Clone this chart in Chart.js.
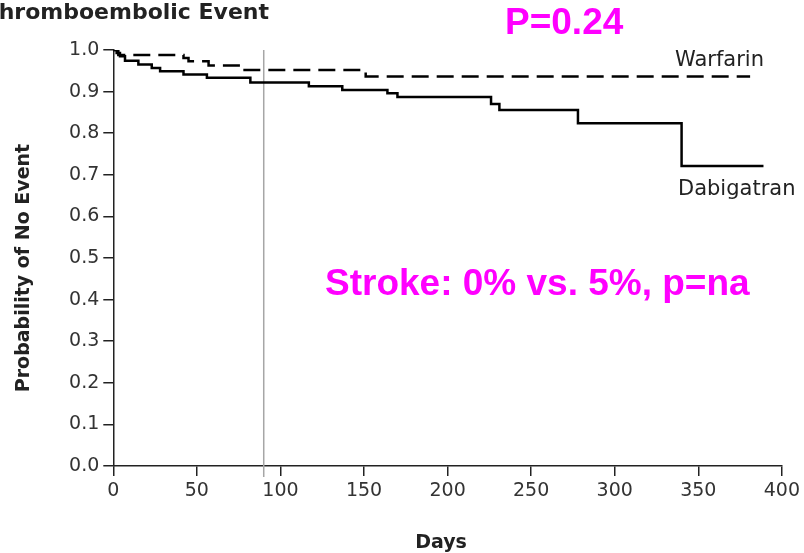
<!DOCTYPE html>
<html>
<head>
<meta charset="utf-8">
<script src="https://cdn.jsdelivr.net/npm/chart.js@4"></script>
<style>
  html, body { margin: 0; padding: 0; background: #fff; }
  canvas { display: block; }
</style>
</head>
<body>
<canvas id="chart" width="804" height="553"></canvas>
<script>
// Kaplan-Meier data (days, probability of no event)
const warfarinDays = [0, 3, 42, 45, 57, 75, 151, 381];
const warfarinProb = [1.0, 0.988, 0.981, 0.973, 0.963, 0.952, 0.936, 0.936];

const dabigatranDays = [0, 2, 4, 7, 15, 23, 28, 42, 56, 82, 117, 137, 164, 170, 226, 231, 278, 340, 389];
const dabigatranProb = [1.0, 0.993, 0.985, 0.974, 0.965, 0.957, 0.949, 0.941, 0.933, 0.922, 0.913, 0.904, 0.896, 0.887, 0.870, 0.856, 0.824, 0.721, 0.721];

const xTicks = [0, 50, 100, 150, 200, 250, 300, 350, 400];
const yTicks = [0.0, 0.1, 0.2, 0.3, 0.4, 0.5, 0.6, 0.7, 0.8, 0.9, 1.0];

const markerDay = 90; // vertical reference line

const toPoints = (xs, ys) => xs.map((x, i) => ({ x: x, y: ys[i] }));

// extra drawing: reference line, labels, annotations
const extras = {
  id: "extras",
  beforeDatasetsDraw(chart) {
    const { ctx, scales } = chart;
    const x = scales.x.getPixelForValue(markerDay);
    ctx.save();
    ctx.strokeStyle = "#a6a6a6";
    ctx.lineWidth = 1.5;
    ctx.beginPath();
    ctx.moveTo(x, scales.y.getPixelForValue(1.0));
    ctx.lineTo(x, scales.y.getPixelForValue(0) + 11);
    ctx.stroke();
    ctx.restore();
  },
  afterDraw(chart) {
    const { ctx } = chart;
    ctx.save();
    ctx.fillStyle = "#222";
    ctx.textBaseline = "alphabetic";

    // title is cut off at the left edge in the original
    ctx.font = "bold 22px 'DejaVu Sans'";
    ctx.textAlign = "right";
    ctx.fillText("Thromboembolic Event", 269, 19);

    ctx.textAlign = "left";
    ctx.font = "21px 'DejaVu Sans'";
    ctx.fillText("Warfarin", 675, 66);
    ctx.fillText("Dabigatran", 678, 195);

    ctx.font = "bold 19px 'DejaVu Sans'";
    ctx.textAlign = "center";
    ctx.fillText("Days", 441, 548);
    ctx.translate(29, 268);
    ctx.rotate(-Math.PI / 2);
    ctx.fillText("Probability of No Event", 0, 0);
    ctx.restore();

    ctx.save();
    ctx.fillStyle = "#ff00ff";
    ctx.font = "bold 37px 'Liberation Sans'";
    ctx.textAlign = "left";
    ctx.fillText("P=0.24", 505, 34);
    ctx.fillText("Stroke: 0% vs. 5%, p=na", 325, 295);
    ctx.restore();
  }
};

const ctx = document.getElementById("chart").getContext("2d");
new Chart(ctx, {
  type: "line",
  data: {
    datasets: [
      {
        label: "Warfarin",
        data: toPoints(warfarinDays, warfarinProb),
        borderColor: "#000",
        borderWidth: 2.5,
        borderDash: [17, 8],
        stepped: "before",
        pointRadius: 0,
        fill: false
      },
      {
        label: "Dabigatran",
        data: toPoints(dabigatranDays, dabigatranProb),
        borderColor: "#000",
        borderWidth: 2.5,
        stepped: "before",
        pointRadius: 0,
        fill: false
      }
    ]
  },
  options: {
    responsive: false,
    animation: false,
    layout: { padding: { top: 50, right: 19.7, left: 0, bottom: 0 } },
    plugins: { legend: { display: false }, tooltip: { enabled: false } },
    scales: {
      x: {
        type: "linear",
        min: 0,
        max: 400,
        afterFit(scale) { scale.height = 87; },
        afterBuildTicks(scale) { scale.ticks = xTicks.map(v => ({ value: v })); },
        border: { display: true, color: "#222", width: 1.5 },
        grid: { display: true, drawOnChartArea: false, drawTicks: true, tickLength: 10, color: "#222", lineWidth: 1.5 },
        ticks: {
          color: "#333",
          font: { family: "'DejaVu Sans'", size: 19 },
          padding: 4,
          maxRotation: 0,
          callback: v => String(v)
        }
      },
      y: {
        min: 0,
        max: 1,
        afterFit(scale) { scale.width = 113.3; },
        afterBuildTicks(scale) { scale.ticks = yTicks.map(v => ({ value: v })); },
        border: { display: true, color: "#222", width: 1.5 },
        grid: { display: true, drawOnChartArea: false, drawTicks: true, tickLength: 10, color: "#222", lineWidth: 1.5 },
        ticks: {
          color: "#333",
          font: { family: "'DejaVu Sans'", size: 19 },
          padding: 4,
          callback: v => Number(v).toFixed(1)
        }
      }
    }
  },
  plugins: [extras]
});
</script>
</body>
</html>
